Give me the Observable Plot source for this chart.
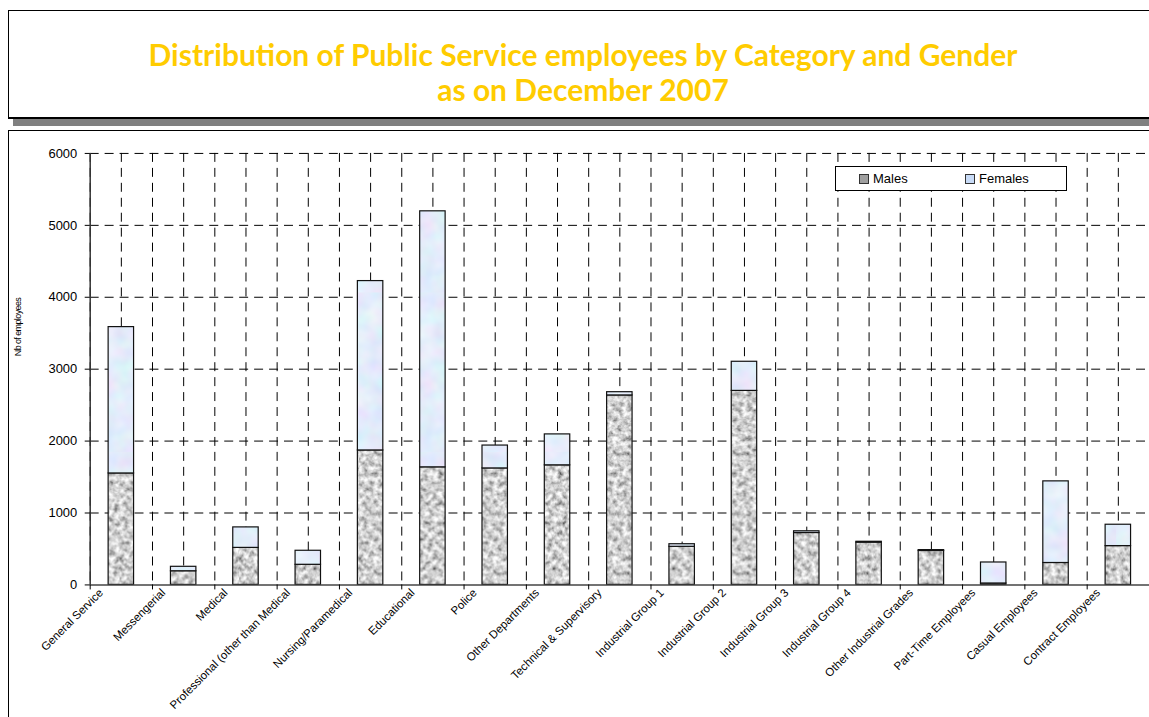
<!DOCTYPE html>
<html><head><meta charset="utf-8">
<script src="https://cdn.jsdelivr.net/npm/d3@7"></script>
<script src="https://cdn.jsdelivr.net/npm/@observablehq/plot@0.6"></script>
<style>
html,body{margin:0;padding:0;}
body{width:1149px;height:717px;overflow:hidden;position:relative;background:#fff;font-family:"Liberation Sans",Arial,sans-serif;}
#titlebox{position:absolute;left:8px;top:10px;width:1148px;height:106px;border:1.5px solid #000;border-bottom-width:2px;box-shadow:5px 7px 0 #808080;background:#fff;}
#title{position:absolute;left:0;right:0;top:26px;text-align:center;font-family:Lato,"Open Sans",sans-serif;font-weight:700;font-size:30px;line-height:35px;color:#FFCC00;}
#frame{position:absolute;left:8px;top:130px;width:1160px;height:620px;border-left:1.5px solid #000;border-top:1.5px solid #000;}
#chart{position:absolute;left:0;top:133px;}
#ylabel{position:absolute;left:18px;top:327px;transform:translate(-50%,-50%) rotate(-90deg);font-size:9px;letter-spacing:-0.6px;white-space:nowrap;color:#000;}
#legend{position:absolute;left:835px;top:166px;width:230px;height:23px;border:1px solid #000;background:#fff;font-size:13px;color:#000;}
#legend .item{position:absolute;top:4px;display:flex;align-items:center;}
#legend .sw{width:8px;height:8px;border:1px solid #333;margin-right:4px;}
</style></head>
<body>
<div id="titlebox"><div id="title">Distribution of Public Service employees by Category and Gender<br>as on December 2007</div></div>
<div id="frame"></div>
<div id="chart"></div>
<div id="ylabel">Nb of employees</div>
<div id="legend">
  <div class="item" style="left:23px"><div class="sw" style="background:#a0a0a0"></div>Males</div>
  <div class="item" style="left:129px"><div class="sw" style="background:#c8dbf7"></div>Females</div>
</div>
<script>
const categories = ["General Service","Messengerial","Medical","Professional (other than Medical","Nursing/Paramedical","Educational","Police","Other Departments","Technical & Supervisory","Industrial Group 1","Industrial Group 2","Industrial Group 3","Industrial Group 4","Other Industrial Grades","Part-Time Employees","Casual Employees","Contract Employees"];
const males   = [1550, 190, 515, 280, 1870, 1635, 1620, 1663, 2635, 530, 2698, 722, 588, 472, 20, 305, 540];
const females = [2035,  62, 285, 195, 2355, 3560,  318,  430,   45,  36,  405,  24,  12,  12, 292, 1135, 297];
const genders = ["Males","Females"];
const yTicks = [0,1000,2000,3000,4000,5000,6000];

const data = categories.flatMap((c,i)=>[
  {category:c, gender:"Males", value:males[i]},
  {category:c, gender:"Females", value:females[i]}
]);

const W = 1153, ML = 90;
const step = (W - ML) / categories.length;
const dash = "9,6";

const chart = Plot.plot({
  width: W, height: 584,
  marginLeft: ML, marginRight: 0, marginTop: 20, marginBottom: 131,
  style: {background:"transparent", fontFamily:"'Liberation Sans', Arial, sans-serif", color:"#000"},
  x: {domain: categories, padding: 0, round: false, label: null},
  y: {domain: [0, 6000], label: null},
  color: {domain: genders, range: ["url(#granite)", "url(#lightblue)"]},
  marks: [
    Plot.ruleY(yTicks.slice(1), {stroke:"#000", strokeDasharray:dash, strokeWidth:1}),
    Plot.ruleX(categories, {stroke:"#000", strokeDasharray:dash, strokeWidth:1}),
    Plot.ruleX(categories, {stroke:"#000", strokeDasharray:dash, strokeWidth:1, dx:-step/2}),
    Plot.barY(data, Plot.stackY({x:"category", y:"value", fill:"gender", stroke:"#111", strokeWidth:1.2, insetLeft:18.5, insetRight:18.5})),
    Plot.ruleX(categories.slice(0,1), {stroke:"#333", strokeWidth:1.5, dx:-step/2}),
    Plot.ruleY([0], {stroke:"#444", strokeWidth:1.5}),
    Plot.axisY({ticks: yTicks, tickSize:5, tickPadding:8, fontSize:13, label:null, tickFormat: d=>String(d)}),
    Plot.axisX({tickSize:5, dx:-step/2, tickFormat: () => "", label:null}),
    Plot.axisX({tickSize:0, tickPadding:6, dx:-step/2 + 11, tickRotate:-45, fontSize:11.5, label:null})
  ]
});

const defs = document.createElementNS("http://www.w3.org/2000/svg","defs");
defs.innerHTML = `
 <filter id="fGranite" x="0" y="0" width="100%" height="100%" filterUnits="userSpaceOnUse">
   <feTurbulence type="fractalNoise" baseFrequency="0.2" numOctaves="3" seed="7" result="n"/>
   <feColorMatrix in="n" type="matrix" values="1.5 0 0 0 -0.12  1.5 0 0 0 -0.12  1.5 0 0 0 -0.12  0 0 0 0 1"/>
 </filter>
 <filter id="fBlue" x="0" y="0" width="100%" height="100%" filterUnits="userSpaceOnUse">
   <feTurbulence type="fractalNoise" baseFrequency="0.06" numOctaves="2" seed="3" result="n"/>
   <feColorMatrix in="n" type="matrix" values="0.3 0 0 0 0.62  0 0.25 0 0 0.72  0 0 0.12 0 0.9  0 0 0 0 1"/>
 </filter>
 <pattern id="granite" patternUnits="userSpaceOnUse" width="120" height="120">
   <rect width="120" height="120" fill="#aaa" filter="url(#fGranite)"/>
 </pattern>
 <pattern id="lightblue" patternUnits="userSpaceOnUse" width="160" height="160">
   <rect width="160" height="160" fill="#cfdffa" filter="url(#fBlue)"/>
 </pattern>`;
chart.insertBefore(defs, chart.firstChild);
document.getElementById("chart").appendChild(chart);
</script>
</body></html>
